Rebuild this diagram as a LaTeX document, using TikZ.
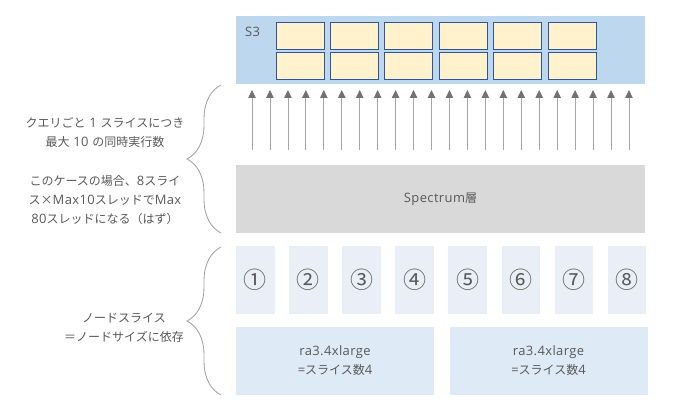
\documentclass[tikz,border=0pt]{standalone}
\usepackage{fontspec}
\setmainfont{Noto Sans CJK JP}
\newfontfamily\en{Open Sans}[Scale=1.08,LetterSpace=3]
\usetikzlibrary{positioning}
\usetikzlibrary{arrows.meta}
\usetikzlibrary{decorations.pathreplacing}
\definecolor{txtgray}{HTML}{595959}
\definecolor{s3fill}{HTML}{BDD7EE}
\definecolor{cellfill}{HTML}{FFF2CC}
\definecolor{cellline}{HTML}{2F5597}
\definecolor{specfill}{HTML}{D9D9D9}
\definecolor{slicefill}{HTML}{EAEFF7}
\definecolor{nodefill}{HTML}{DEEAF6}
\definecolor{arrowline}{HTML}{A6A6A6}
\definecolor{arrowhead}{HTML}{767171}
\definecolor{bracegray}{HTML}{A6A6A6}
\tikzset{txt/.style={inner sep=0pt, text=txtgray, align=center, font=\fontsize{12}{19}\selectfont}}
\tikzset{layer/.style={txt, minimum width=409pt, minimum height=68pt}}
\tikzset{cell/.style={draw=cellline, fill=cellfill, line width=0.8pt, minimum width=48pt, minimum height=27pt}}
\tikzset{slice/.style={txt, fill=slicefill, minimum width=38.5pt, minimum height=68pt, font=\fontsize{23}{23}\selectfont}}
\tikzset{nodebox/.style={txt, fill=nodefill, minimum width=198pt, minimum height=68pt}}
\tikzset{up/.style={draw=arrowline, line width=0.8pt, -{Triangle[width=7.5pt,length=8pt,color=arrowhead]}}}
\tikzset{brc/.style={draw=bracegray, line width=0.9pt, decorate, decoration={brace,amplitude=34pt}}}

\begin{document}
\begin{tikzpicture}[x=1pt,y=-1pt]
\useasboundingbox (0,0) rectangle (700,419);
\begin{scope}[on grid]
\node[layer, fill=s3fill] (s3) at (440.5,50) {};
\node[txt, anchor=west] (s3lbl) at (245,32) {\en S3};
\foreach \i in {0,...,5} {
  \node[cell] (ct\i) at (300+54.4*\i,35.5) {};
  \node[cell] (cb\i) [below=30pt of ct\i] {};
}

\node[layer, fill=specfill] (spec) at (440.5,199) {{\en Spectrum}層};

\foreach \i in {0,...,21} {
  \coordinate (lo\i) at (252+17.95*\i,150);
  \coordinate (hi\i) at (252+17.95*\i,90);
  \draw[up] (lo\i) -- (hi\i);
}

\foreach \n [count=\i from 0] in {①,②,③,④,⑤,⑥,⑦,⑧}
  \node[slice] (sl\i) at (255.3+53.1*\i,280) {\n};

\node[nodebox] (ra1) at (335,361) {{\en ra3.4xlarge}\\{\en =}スライス数{\en 4}};
\node[nodebox] (ra2) at (548.5,361) {{\en ra3.4xlarge}\\{\en =}スライス数{\en 4}};

\node[txt] (perquery) at (105,132.5) {クエリごと{\en\ 1 }スライスにつき\\最大{\en\ 10 }の同時実行数};
\node[txt] (thiscase) [below=67.5pt of perquery] {このケースの場合、{\en 8}スライ\\ス×{\en Max10}スレッドで{\en Max}\\{\en 80}スレッドになる（はず）};
\node[txt] (nodeslice) at (124,327.5) {ノードスライス\\＝ノードサイズに依存};

\coordinate (b1top) at (221,85);
\coordinate (b1bot) at (221,233);
\coordinate (b2top) at (221,247);
\coordinate (b2bot) at (221,395);
\draw[brc] (b1bot) -- (b1top);
\draw[brc] (b2bot) -- (b2top);
\end{scope}
\end{tikzpicture}
\end{document}
